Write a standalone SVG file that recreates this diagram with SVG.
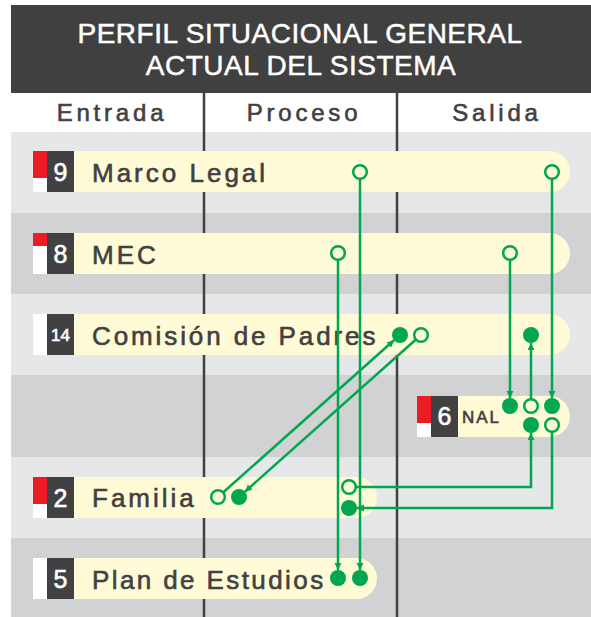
<svg xmlns="http://www.w3.org/2000/svg" width="591" height="617" viewBox="0 0 591 617">
<defs>
<style>
.t{font-family:"Liberation Sans",Arial,sans-serif;fill:#414042;stroke:#414042;stroke-width:0.6}
.title{font-family:"Liberation Sans",Arial,sans-serif;fill:#ffffff;stroke:#ffffff;stroke-width:0.5;font-size:28px;letter-spacing:0.5px}
.col{font-size:24px;letter-spacing:3.8px}
.lbl{font-size:26px;letter-spacing:3px}
.num{font-family:"Liberation Sans",Arial,sans-serif;fill:#ffffff;stroke:#ffffff;stroke-width:0.6;font-size:25px;text-anchor:middle}
.pill{fill:#fffbd6}
.red{fill:#ed1c24}
.wht{fill:#ffffff}
.dk{fill:#414042}
.div{stroke:#414042;stroke-width:2.5}
.arr{fill:none;stroke:#00a651;stroke-width:2.5;marker-end:url(#ah)}
.oc{fill:#fffbd6;stroke:#00a651;stroke-width:2.5}
.fc{fill:#00a651}
</style>
<marker id="ah" markerUnits="userSpaceOnUse" markerWidth="8" markerHeight="8" refX="7" refY="3.5" orient="auto">
<path d="M0,0 L7,3.5 L0,7 Z" fill="#00a651"/>
</marker>
</defs>
<rect x="0" y="0" width="591" height="617" fill="#ffffff"/>
<rect x="11" y="5" width="580" height="88" fill="#404040"/>
<text class="title" x="300" y="43" text-anchor="middle">PERFIL SITUACIONAL GENERAL</text>
<text class="title" x="301" y="75" text-anchor="middle">ACTUAL DEL SISTEMA</text>
<rect x="11" y="132" width="580" height="81" fill="#e6e7e8"/>
<rect x="11" y="213" width="580" height="81" fill="#d1d2d4"/>
<rect x="11" y="294" width="580" height="81" fill="#e6e7e8"/>
<rect x="11" y="375" width="580" height="82" fill="#d1d2d4"/>
<rect x="11" y="457" width="580" height="81" fill="#e6e7e8"/>
<rect x="11" y="538" width="580" height="79" fill="#d1d2d4"/>
<line class="div" x1="204" y1="93" x2="204" y2="617"/>
<line class="div" x1="397" y1="93" x2="397" y2="617"/>
<text class="t col" x="112" y="121" text-anchor="middle">Entrada</text>
<text class="t col" x="304" y="121" text-anchor="middle">Proceso</text>
<text class="t col" x="497" y="121" text-anchor="middle">Salida</text>

<g id="node-marco-legal">
<path class="pill" d="M74,151 H549.5 A20.5,20.5 0 0 1 549.5,192 H74 Z"/>
<rect class="wht" x="33" y="151" width="14" height="41"/>
<rect class="red" x="33" y="151" width="14" height="27"/>
<rect class="dk" x="47" y="151" width="27" height="41"/>
<text class="num" x="60.5" y="181">9</text>
<text class="t lbl" x="92" y="182">Marco Legal</text>
</g>
<g id="node-mec">
<path class="pill" d="M74,233 H549.5 A20.5,20.5 0 0 1 549.5,274 H74 Z"/>
<rect class="wht" x="33" y="233" width="14" height="41"/>
<rect class="red" x="33" y="233" width="14" height="13"/>
<rect class="dk" x="47" y="233" width="27" height="41"/>
<text class="num" x="60.5" y="263">8</text>
<text class="t lbl" x="92" y="264">MEC</text>
</g>
<g id="node-comision">
<path class="pill" d="M74,314 H549.5 A20.5,20.5 0 0 1 549.5,355 H74 Z"/>
<rect class="wht" x="33" y="314" width="14" height="41"/>
<rect class="dk" x="47" y="314" width="27" height="41"/>
<text class="num" x="60.5" y="341" style="font-size:17px">14</text>
<text class="t lbl" x="92" y="345" style="letter-spacing:2.9px">Comisión de Padres</text>
</g>
<g id="node-nal">
<path class="pill" d="M458,396 H549.5 A20.5,20.5 0 0 1 549.5,437 H458 Z"/>
<rect class="wht" x="417" y="396" width="14" height="41"/>
<rect class="red" x="417" y="396" width="14" height="27"/>
<rect class="dk" x="431" y="396" width="27" height="41"/>
<text class="num" x="444.5" y="425">6</text>
<text class="t" x="462" y="423" style="font-size:17px;letter-spacing:2px">NAL</text>
</g>
<g id="node-familia">
<path class="pill" d="M74,477 H356.5 A20.5,20.5 0 0 1 356.5,518 H74 Z"/>
<rect class="wht" x="33" y="477" width="14" height="41"/>
<rect class="red" x="33" y="477" width="14" height="27"/>
<rect class="dk" x="47" y="477" width="27" height="41"/>
<text class="num" x="60.5" y="507">2</text>
<text class="t lbl" x="92" y="507">Familia</text>
</g>
<g id="node-plan">
<path class="pill" d="M74,558 H356.5 A20.5,20.5 0 0 1 356.5,599 H74 Z"/>
<rect class="wht" x="33" y="558" width="14" height="41"/>
<rect class="dk" x="47" y="558" width="27" height="41"/>
<text class="num" x="60.5" y="588">5</text>
<text class="t lbl" x="92" y="589" style="letter-spacing:2.4px">Plan de Estudios</text>
</g>

<g id="connectors">
<path class="arr" d="M360,178.8 V570"/>
<path class="arr" d="M338,259.8 V570"/>
<path class="arr" d="M552,178.8 V398"/>
<path class="arr" d="M510,259.8 V398"/>
<path class="arr" d="M531,399.2 V343"/>
<path class="arr" d="M415.9,339.5 L245,491.7"/>
<path class="arr" d="M223.1,492.5 L394,340.3"/>
<path class="arr" d="M355.8,487 H531 V433"/>
<path class="arr" d="M552,431.8 V508 H357"/>
</g>

<g id="ports">
<circle class="oc" cx="360" cy="172" r="6.8"/>
<circle class="oc" cx="552" cy="172" r="6.8"/>
<circle class="oc" cx="338" cy="253" r="6.8"/>
<circle class="oc" cx="510" cy="253" r="6.8"/>
<circle class="fc" cx="400" cy="335" r="8"/>
<circle class="oc" cx="421" cy="335" r="6.8"/>
<circle class="fc" cx="531" cy="335" r="8"/>
<circle class="fc" cx="510" cy="406" r="8"/>
<circle class="oc" cx="531" cy="406" r="6.8"/>
<circle class="fc" cx="552" cy="406" r="8"/>
<circle class="fc" cx="531" cy="425" r="8"/>
<circle class="oc" cx="552" cy="425" r="6.8"/>
<circle class="oc" cx="218" cy="497" r="6.8"/>
<circle class="fc" cx="239" cy="497" r="8"/>
<circle class="oc" cx="349" cy="487" r="6.8"/>
<circle class="fc" cx="349" cy="508" r="8"/>
<circle class="fc" cx="338" cy="578" r="8"/>
<circle class="fc" cx="360" cy="578" r="8"/>
</g>
</svg>
